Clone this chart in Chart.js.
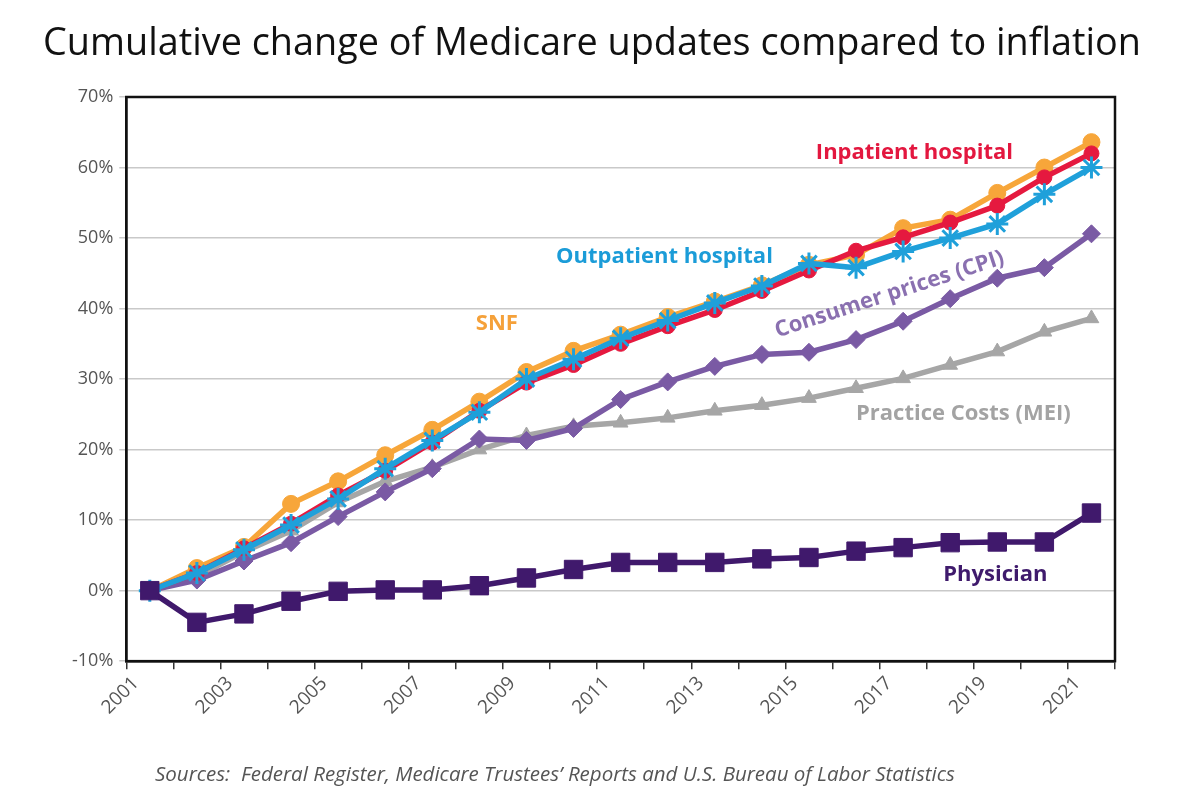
<!DOCTYPE html>
<html>
<head>
<meta charset="utf-8">
<title>Cumulative change of Medicare updates compared to inflation</title>
<script src="https://cdn.jsdelivr.net/npm/chart.js@4.4.1/dist/chart.umd.min.js"></script>
<style>
    html, body { margin: 0; padding: 0; background: #ffffff; }
    #wrap { width: 1200px; height: 800px; }
</style>
</head>
<body>
<div id="wrap"><canvas id="medicareChart" width="1200" height="800"></canvas></div>
<script>
'use strict';

// Years on the x axis
const years = ['2001', '2002', '2003', '2004', '2005', '2006', '2007', '2008', '2009', '2010', '2011',
    '2012', '2013', '2014', '2015', '2016', '2017', '2018', '2019', '2020', '2021'];

// Cumulative change, percent
const snf = [0, 3.2, 6.2, 12.3, 15.5, 19.2, 22.8, 26.8, 31.0, 34.0, 36.3, 38.8, 41.0, 43.3, 46.2, 47.6, 51.4, 52.6, 56.4, 60.0, 63.6];
const inpatient = [0, 2.5, 6.0, 9.5, 13.5, 17.0, 21.0, 25.5, 29.5, 32.0, 35.0, 37.5, 39.8, 42.5, 45.4, 48.2, 50.1, 52.2, 54.6, 58.6, 62.0];
const outpatient = [0, 2.5, 5.8, 9.3, 13.0, 17.3, 21.3, 25.3, 30.0, 32.8, 35.8, 38.3, 40.8, 43.2, 46.4, 45.8, 48.1, 50.0, 52.0, 56.2, 60.0];
const cpi = [0, 1.5, 4.2, 6.8, 10.5, 14.0, 17.3, 21.5, 21.3, 23.0, 27.1, 29.6, 31.8, 33.5, 33.8, 35.6, 38.2, 41.4, 44.3, 45.8, 50.6];
const mei = [0, 2.0, 5.5, 8.5, 12.5, 15.5, 17.5, 20.0, 22.0, 23.3, 23.8, 24.5, 25.5, 26.3, 27.3, 28.7, 30.1, 32.0, 33.9, 36.7, 38.6];
const physician = [0, -4.5, -3.3, -1.5, -0.1, 0.1, 0.1, 0.7, 1.8, 3.0, 4.0, 4.0, 4.0, 4.5, 4.7, 5.6, 6.1, 6.8, 6.9, 6.9, 11.0];

// y axis range / tick step
const yMin = -10;
const yMax = 70;
const yStep = 10;

const FONT = '"Open Sans", "Noto Sans", sans-serif';
const TITLE = 'Cumulative change of Medicare updates compared to inflation';
const SOURCES = 'Sources:  Federal Register, Medicare Trustees\u2019 Reports and U.S. Bureau of Labor Statistics';

// Series labels written on the plot (x = category index, y = percent)
const seriesLabels = [
    { text: 'Inpatient hospital', x: 16.24, y: 62.1, color: '#e3173f', angle: 0 },
    { text: 'Outpatient hospital', x: 10.93, y: 47.4, color: '#1b9cd8', angle: 0 },
    { text: 'SNF', x: 7.37, y: 37.9, color: '#f5a13a', angle: 0 },
    { text: 'Consumer prices (CPI)', x: 15.71, y: 42.0, color: '#8a70b0', angle: -18 },
    { text: 'Practice Costs (MEI)', x: 17.28, y: 25.1, color: '#a3a3a3', angle: 0 },
    { text: 'Physician', x: 17.96, y: 2.3, color: '#3f1a6c', angle: 0 }
];

// Draws the title, series names, the black box round the plot and the sources line
const labelPlugin = {
    id: 'seriesLabels',
    afterDatasetsDraw(chart) {
        const c = chart.ctx;
        const xs = chart.scales.x;
        const ys = chart.scales.y;
        c.save();

        // title (drawn here so it is not squeezed to the padded width)
        c.font = '37.8px ' + FONT;
        c.fillStyle = '#111111';
        c.textAlign = 'center';
        c.textBaseline = 'middle';
        c.fillText(TITLE, 592, 44);

        c.font = 'bold 22px ' + FONT;
        seriesLabels.forEach(function (l) {
            c.save();
            c.translate(xs.getPixelForValue(l.x), ys.getPixelForValue(l.y));
            c.rotate(l.angle * Math.PI / 180);
            c.fillStyle = l.color;
            c.fillText(l.text, 0, 0);
            c.restore();
        });
        // plot frame
        const a = chart.chartArea;
        c.strokeStyle = '#111111';
        c.lineWidth = 2.5;
        c.strokeRect(a.left, a.top, a.right - a.left, a.bottom - a.top);

        // sources note under the axis
        c.font = 'italic 20.5px ' + FONT;
        c.fillStyle = '#555555';
        c.textAlign = 'left';
        c.fillText(SOURCES, 155, 775);
        c.restore();
    }
};

function series(label, data, color, style, radius, order) {
    return {
        label: label,
        data: data,
        borderColor: color,
        backgroundColor: color,
        pointBackgroundColor: color,
        pointBorderColor: color,
        pointStyle: style,
        pointRadius: radius,
        pointBorderWidth: style === 'star' ? 3 : 1,
        borderWidth: 5.5,
        tension: 0,
        order: order
    };
}

const ctx = document.getElementById('medicareChart').getContext('2d');

const medicareChart = new Chart(ctx, {
    type: 'line',
    data: {
        labels: years,
        datasets: [
            series('SNF', snf, '#f7a63a', 'circle', 8.5, 4),
            series('Inpatient hospital', inpatient, '#e5193f', 'circle', 7.5, 3),
            series('Outpatient hospital', outpatient, '#1fa0da', 'star', 11, 2),
            series('Consumer prices (CPI)', cpi, '#7a5aa4', 'rectRot', 9, 5),
            series('Practice Costs (MEI)', mei, '#a6a6a6', 'triangle', 8.5, 6),
            series('Physician', physician, '#40196c', 'rect', 13, 1)
        ]
    },
    options: {
        responsive: false,
        animation: false,
        layout: {
            padding: { left: 66, right: 85, top: 97, bottom: 78 }
        },
        plugins: {
            legend: { display: false },
            tooltip: { enabled: false },
            title: { display: false }
        },
        scales: {
            x: {
                type: 'category',
                offset: true,
                grid: {
                    offset: true,
                    drawOnChartArea: false,
                    drawTicks: true,
                    tickLength: 8,
                    color: '#333333',
                    lineWidth: 1.5
                },
                border: { color: '#111111', width: 2.5 },
                ticks: {
                    autoSkip: false,
                    minRotation: 45,
                    maxRotation: 45,
                    labelOffset: -14,
                    color: '#555555',
                    font: { family: FONT, size: 19 },
                    callback: function (value, index) {
                        return index % 2 === 0 ? this.getLabelForValue(value) : '';
                    }
                }
            },
            y: {
                min: yMin,
                max: yMax,
                grid: {
                    color: '#c9c9c9',
                    lineWidth: 1.5,
                    tickLength: 7
                },
                border: { color: '#111111', width: 2.5 },
                ticks: {
                    stepSize: yStep,
                    color: '#555555',
                    padding: 6,
                    font: { family: FONT, size: 18 },
                    callback: function (v) { return v + '%'; }
                }
            }
        }
    },
    plugins: [labelPlugin]
});
</script>
</body>
</html>
